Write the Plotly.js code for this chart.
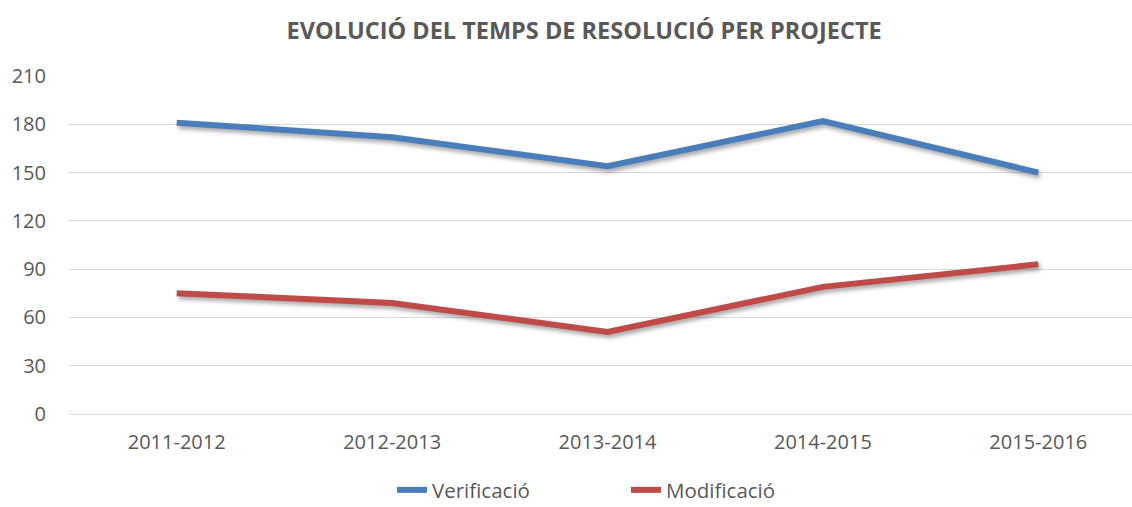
<!DOCTYPE html>
<html>
<head>
<meta charset="utf-8">
<script src="https://cdn.plot.ly/plotly-3.0.1.min.js"></script>
<style>
html,body{margin:0;padding:0;background:#fff;}
#chart{width:1132px;height:507px;}
#chart .cartesianlayer .scatterlayer .js-line{filter:drop-shadow(2px 3px 2px rgba(0,0,0,0.35));}
</style>
</head>
<body>
<div id="chart"></div>
<script>
const categories = ["2011-2012", "2012-2013", "2013-2014", "2014-2015", "2015-2016"];
const verificacio = [181, 172, 154, 182, 150];
const modificacio = [75, 69, 51, 79, 93];
const yTicks = [0, 30, 60, 90, 120, 150, 180, 210];

const font = "Open Sans, Noto Sans, sans-serif";
const traces = [
  {x: categories, y: verificacio, name: "Verificació", type: "scatter", mode: "lines",
   line: {color: "#4A7EBB", width: 6, shape: "linear"}},
  {x: categories, y: modificacio, name: "Modificació", type: "scatter", mode: "lines",
   line: {color: "#BE4B48", width: 6, shape: "linear"}}
];
const layout = {
  width: 1132, height: 507,
  margin: {l: 69, r: 0, t: 76, b: 93, autoexpand: false},
  paper_bgcolor: "#fff", plot_bgcolor: "#fff",
  font: {family: font, color: "#595959", size: 20},
  title: {text: "<b>EVOLUCIÓ DEL TEMPS DE RESOLUCIÓ PER PROJECTE</b>",
          font: {family: font, size: 23.5, color: "#595959"},
          x: 0.516, xanchor: "center", y: 0.94, yanchor: "middle"},
  xaxis: {type: "category", range: [-0.5, 4.435], showgrid: false, zeroline: false, automargin: false,
          showline: false, ticks: "", tickfont: {size: 20, color: "#595959"}, ticklabelstandoff: 14},
  yaxis: {range: [0, 210], tickvals: yTicks, showgrid: true, gridcolor: "#D9D9D9", gridwidth: 1, automargin: false,
          zeroline: true, zerolinecolor: "#D9D9D9", zerolinewidth: 1, showline: false, ticks: "",
          tickfont: {size: 20, color: "#595959"}, ticklabelstandoff: 22},
  showlegend: true,
  legend: {orientation: "h", x: 0.524, xanchor: "center", y: -0.225, yanchor: "middle",
           font: {size: 20.5, color: "#595959"}, itemwidth: 30, entrywidth: 189, entrywidthmode: "pixels",
           traceorder: "normal"}
};
Plotly.newPlot("chart", traces, layout, {displayModeBar: false, staticPlot: true});
</script>
</body>
</html>
